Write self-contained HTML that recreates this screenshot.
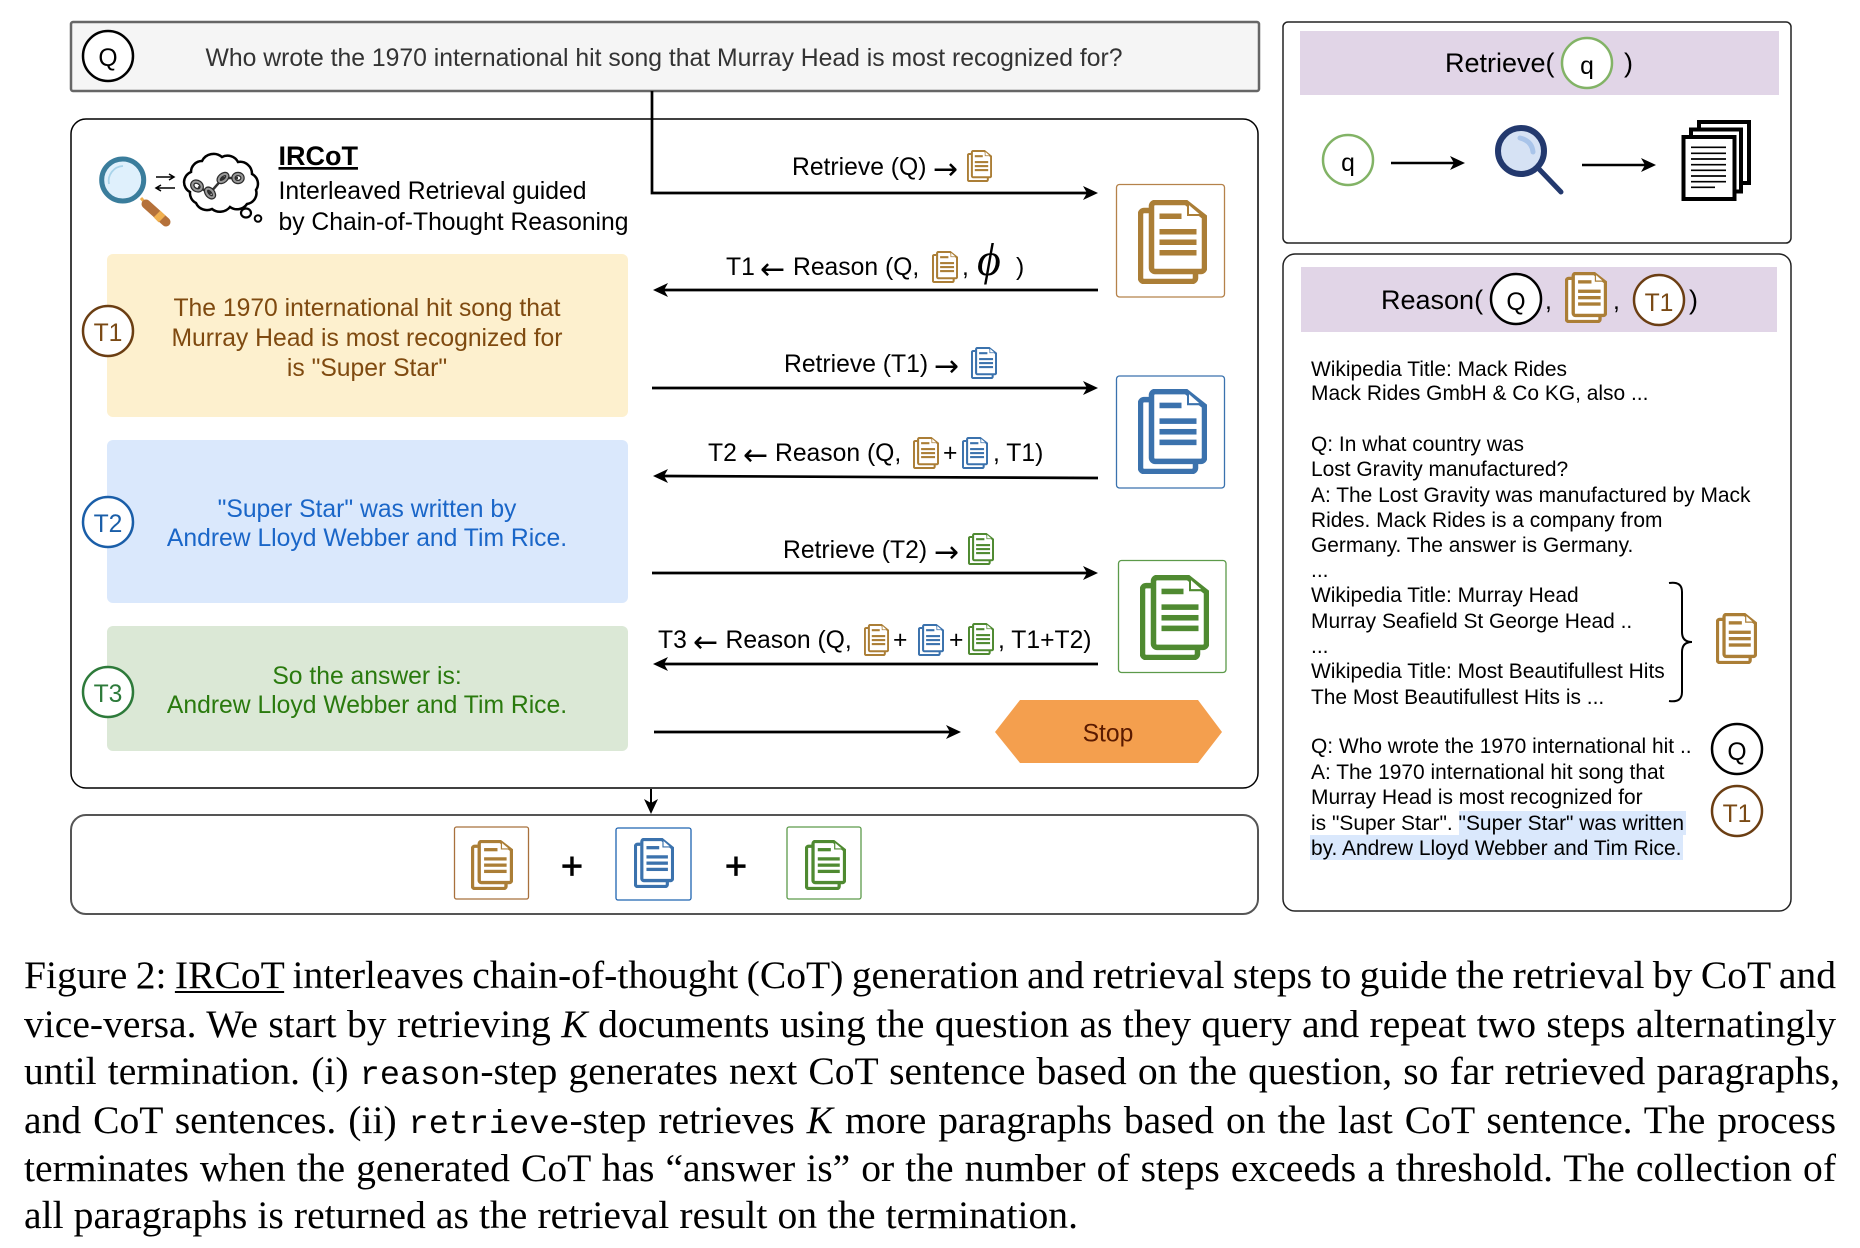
<!DOCTYPE html>
<html><head><meta charset="utf-8">
<style>
html,body{margin:0;padding:0;background:#fff;width:1860px;height:1248px;overflow:hidden}
svg{position:absolute;left:0;top:0}
svg text{font-family:"Liberation Sans",sans-serif;font-size:24.7px;fill:#000}
svg text.a{font-family:"DejaVu Sans",sans-serif;font-size:30px}
.c{text-anchor:middle}
svg text.r{font-size:20.95px}
.cap{position:absolute;left:24px;height:48px;line-height:48px;font-family:"Liberation Serif",serif;font-size:39.6px;color:#000;text-align:justify;text-align-last:justify;white-space:normal;overflow:hidden;word-spacing:-2px}
.cap tt{font-family:"Liberation Mono",monospace;font-size:33.5px}
.cap i{font-style:italic}
.cap u{text-decoration-thickness:2px;text-underline-offset:3px}
</style></head><body>
<svg width="1860" height="1248" viewBox="0 0 1860 1248" xmlns="http://www.w3.org/2000/svg">
<defs>
<symbol id="doc" viewBox="0 0 69 84" preserveAspectRatio="none">
<path d="M11 10.500H6a3.500 3.500 0 0 0-3.500 3.500V78a3.500 3.500 0 0 0 3.500 3.500H54a3.500 3.500 0 0 0 3.500-3.500V72" fill="#fff" stroke="currentColor" stroke-width="5.500"/>
<path d="M17 2.500H48L66.500 17V68a3.500 3.500 0 0 1-3.500 3.500H17a3.500 3.500 0 0 1-3.500-3.500V6a3.500 3.500 0 0 1 3.500-3.500z" fill="#fff" stroke="currentColor" stroke-width="5.500"/>
<path d="M50 3V15H64z" fill="#fff" stroke="currentColor" stroke-width="2"/>
<rect x="21.500" y="13.500" width="22" height="5.500" fill="currentColor"/>
<rect x="21.500" y="29" width="37" height="5.500" fill="currentColor"/>
<rect x="21.500" y="39.500" width="37" height="5.500" fill="currentColor"/>
<rect x="21.500" y="50" width="37" height="5.500" fill="currentColor"/>
</symbol>
</defs>

<!-- Question bar -->
<rect x="71" y="22" width="1188" height="69" rx="2" fill="#f5f5f5" stroke="#666" stroke-width="2.500"/>
<circle cx="108" cy="56" r="25" fill="#fff" stroke="#000" stroke-width="2.500"/>
<text class="c" x="108" y="66">Q</text>
<text x="205.500" y="66" style="fill:#333" textLength="917" lengthAdjust="spacingAndGlyphs">Who wrote the 1970 international hit song that Murray Head is most recognized for?</text>

<!-- Main box -->
<rect x="71" y="119" width="1187" height="669" rx="15" fill="#fff" stroke="#000" stroke-width="1.500"/>

<!-- Logo -->
<path d="M141 198L153 212" stroke="#f0b050" stroke-width="3"/>
<path d="M146 204L166 222" stroke="#b5713a" stroke-width="9" stroke-linecap="round"/>
<path d="M157 214L162 219" stroke="#f0b050" stroke-width="9.500"/>
<circle cx="122.700" cy="180" r="21" fill="#dff0fc" stroke="#3a7d9c" stroke-width="5"/>
<path d="M109 184a15 15 0 0 1 14-18" fill="none" stroke="#a9d4ea" stroke-width="1.800"/>
<path d="M156 177H174M169 174l5 3-5 3" fill="none" stroke="#000" stroke-width="1.500"/>
<path d="M175 188H156M161 185l-5 3 5 3" fill="none" stroke="#000" stroke-width="1.500"/>
<path d="M191 172A11 11 0 0 1 202 161A13 13 0 0 1 222 157A12 12 0 0 1 238 162A12 12 0 0 1 252 174A11 11 0 0 1 256 190A11 11 0 0 1 247 204A12 12 0 0 1 230 207A13 13 0 0 1 212 209A12 12 0 0 1 196 203A11 11 0 0 1 190 192A11 11 0 0 1 191 172Z" fill="#fff" stroke="#000" stroke-width="2.500"/>
<g fill="none">
<path d="M198 187L210 193L223 178L238 178" stroke="#333" stroke-width="2.500"/>
<g stroke="#2b2b2b" stroke-width="4.500">
<ellipse cx="197" cy="186" rx="5" ry="4" transform="rotate(35 197 186)"/>
<ellipse cx="210" cy="193" rx="5" ry="3" transform="rotate(50 210 193)"/>
<ellipse cx="223" cy="178" rx="5" ry="3" transform="rotate(-40 223 178)"/>
<ellipse cx="238" cy="178" rx="4.500" ry="4"/>
</g>
<g stroke="#999" stroke-width="2">
<ellipse cx="197" cy="186" rx="5" ry="4" transform="rotate(35 197 186)"/>
<ellipse cx="210" cy="193" rx="5" ry="3" transform="rotate(50 210 193)"/>
<ellipse cx="223" cy="178" rx="5" ry="3" transform="rotate(-40 223 178)"/>
<ellipse cx="238" cy="178" rx="4.500" ry="4"/>
</g>
</g>
<ellipse cx="246" cy="213" rx="5" ry="4.500" fill="#fff" stroke="#000" stroke-width="2.200"/>
<circle cx="258" cy="218.500" r="3.300" fill="#fff" stroke="#000" stroke-width="2"/>

<text x="278.500" y="165" style="font-size:27px;font-weight:bold;text-decoration:underline">IRCoT</text>
<text x="278.500" y="199" textLength="308" lengthAdjust="spacingAndGlyphs">Interleaved Retrieval guided</text>
<text x="278.500" y="230" textLength="350" lengthAdjust="spacingAndGlyphs">by Chain-of-Thought Reasoning</text>

<!-- T boxes -->
<rect x="107" y="254" width="521" height="163" rx="6" fill="#fdf0ce"/>
<rect x="107" y="440" width="521" height="163" rx="6" fill="#dae8fc"/>
<rect x="107" y="626" width="521" height="125" rx="6" fill="#dbe8d6"/>
<g text-anchor="middle">
<text x="367" y="316" style="fill:#7f4a10">The 1970 international hit song that</text>
<text x="367" y="346" style="fill:#7f4a10">Murray Head is most recognized for</text>
<text x="367" y="376" style="fill:#7f4a10">is "Super Star"</text>
<text x="367" y="517" style="fill:#1a66c8">"Super Star" was written by</text>
<text x="367" y="546" style="fill:#1a66c8">Andrew Lloyd Webber and Tim Rice.</text>
<text x="367" y="684" style="fill:#2a7a0e">So the answer is:</text>
<text x="367" y="713" style="fill:#2a7a0e">Andrew Lloyd Webber and Tim Rice.</text>
</g>
<circle cx="108" cy="331" r="25" fill="#fff" stroke="#6b3e13" stroke-width="2.500"/>
<text class="c" x="108" y="341" style="fill:#7a4a15">T1</text>
<circle cx="108" cy="522" r="25" fill="#fff" stroke="#1a5ea8" stroke-width="2.500"/>
<text class="c" x="108" y="532" style="fill:#1a5ea8">T2</text>
<circle cx="108" cy="692" r="25" fill="#fff" stroke="#2d7a3a" stroke-width="2.500"/>
<text class="c" x="108" y="702" style="fill:#2d7a3a">T3</text>

<!-- Flow arrows -->
<g fill="none" stroke="#000" stroke-width="2.700">
<path d="M652 91V193H1088"/>
<path d="M1098 290H663"/>
<path d="M652 388H1088"/>
<path d="M1098 478L663 476"/>
<path d="M652 573H1088"/>
<path d="M1098 664H663"/>
<path d="M654 732H951"/>
</g>
<g fill="#000">
<path d="M1098 193L1083 186L1087 193L1083 200Z"/>
<path d="M653 290L668 283L664 290L668 297Z"/>
<path d="M1098 388L1083 381L1087 388L1083 395Z"/>
<path d="M653 476L668 469L664 476L668 483Z"/>
<path d="M1098 573L1083 566L1087 573L1083 580Z"/>
<path d="M653 664L668 657L664 664L668 671Z"/>
<path d="M961 732L946 725L950 732L946 739Z"/>
</g>

<!-- Arrow labels -->
<text x="792" y="175">Retrieve (Q)</text><text class="a" x="933" y="179">→</text>
<use href="#doc" x="967" y="150" width="25" height="32" style="color:#ab7e36"/>
<text x="726" y="275">T1</text><text class="a" x="760" y="279">←</text><text x="793" y="275">Reason (Q,</text>
<use href="#doc" x="932" y="251" width="26" height="32" style="color:#ab7e36"/>
<text x="962" y="275">,</text>
<text x="977" y="275" style="font-family:'Liberation Serif',serif;font-size:46px;font-style:italic">ϕ</text>
<text x="1016" y="275">)</text>
<text x="784" y="372">Retrieve (T1)</text><text class="a" x="934" y="376">→</text>
<use href="#doc" x="971" y="347" width="26" height="32" style="color:#3b72ad"/>
<text x="708" y="461">T2</text><text class="a" x="743" y="465">←</text><text x="775" y="461">Reason (Q,</text>
<use href="#doc" x="913" y="437" width="26" height="32" style="color:#ab7e36"/>
<text x="943" y="461">+</text>
<use href="#doc" x="962" y="437" width="26" height="32" style="color:#3b72ad"/>
<text x="993" y="461">, T1)</text>
<text x="783" y="558">Retrieve (T2)</text><text class="a" x="934" y="562">→</text>
<use href="#doc" x="968" y="533" width="26" height="32" style="color:#4f8a31"/>
<text x="658" y="648">T3</text><text class="a" x="693" y="652">←</text><text x="725.500" y="648">Reason (Q,</text>
<use href="#doc" x="864" y="624" width="25" height="32" style="color:#ab7e36"/>
<text x="893" y="648">+</text>
<use href="#doc" x="918" y="624" width="26" height="32" style="color:#3b72ad"/>
<text x="949" y="648">+</text>
<use href="#doc" x="968" y="623" width="26" height="32" style="color:#4f8a31"/>
<text x="998" y="648">, T1+T2)</text>

<!-- Doc boxes -->
<rect x="1116.500" y="184.500" width="108" height="112.500" rx="3" fill="#fff" stroke="#b5824a" stroke-width="1.300"/>
<use href="#doc" x="1138" y="200" width="69" height="84" style="color:#ab7e36"/>
<rect x="1116.500" y="376" width="108" height="112" rx="3" fill="#fff" stroke="#3a72ae" stroke-width="1.300"/>
<use href="#doc" x="1138" y="389" width="69" height="85" style="color:#3b72ad"/>
<rect x="1118.500" y="560.500" width="107.500" height="112" rx="3" fill="#fff" stroke="#5c9a4a" stroke-width="1.300"/>
<use href="#doc" x="1140" y="575" width="69" height="85" style="color:#4f8a31"/>

<!-- Stop -->
<path d="M1020 700H1198L1222 732L1198 763H1020L995 732Z" fill="#f49f4e"/>
<text x="1108" y="741.500" style="fill:#5a1a00;text-anchor:middle">Stop</text>

<!-- Output -->
<path d="M651 789V804" stroke="#000" stroke-width="2" fill="none"/>
<path d="M651 814L644 799L651 803L658 799Z" fill="#000"/>
<rect x="71" y="815" width="1187" height="99" rx="15" fill="#fff" stroke="#555" stroke-width="2"/>
<rect x="454.500" y="827" width="74" height="72" rx="2" fill="#fff" stroke="#a8703c" stroke-width="1.300"/>
<use href="#doc" x="471" y="840" width="42" height="50" style="color:#ab7e36"/>
<rect x="616" y="828" width="75" height="72" rx="2" fill="#fff" stroke="#1e63b0" stroke-width="1.300"/>
<use href="#doc" x="634" y="838" width="40" height="50" style="color:#3b72ad"/>
<rect x="787" y="827" width="74" height="72" rx="2" fill="#fff" stroke="#5c9a4a" stroke-width="1.300"/>
<use href="#doc" x="805" y="840" width="41" height="50" style="color:#4f8a31"/>
<text x="572" y="879" style="font-size:38px;text-anchor:middle;stroke:#000;stroke-width:.7px">+</text>
<text x="736" y="879" style="font-size:38px;text-anchor:middle;stroke:#000;stroke-width:.7px">+</text>

<!-- Retrieve panel -->
<rect x="1283" y="22" width="508" height="221" rx="5" fill="#fff" stroke="#222" stroke-width="1.500"/>
<rect x="1300" y="31" width="479" height="64" fill="#e1d5e7"/>
<text x="1445" y="72" style="font-size:27px">Retrieve(</text>
<circle cx="1587" cy="63" r="25" fill="#fff" stroke="#82b366" stroke-width="2.500"/>
<text x="1587" y="74" style="text-anchor:middle">q</text>
<text x="1624" y="72" style="font-size:27px">)</text>
<circle cx="1348" cy="160" r="25" fill="#fff" stroke="#82b366" stroke-width="2.500"/>
<text x="1348" y="171" style="text-anchor:middle">q</text>
<path d="M1391 163H1455" stroke="#000" stroke-width="2.500"/>
<path d="M1465 163L1450 156L1454 163L1450 170Z" fill="#000"/>
<path d="M1582 165H1647" stroke="#000" stroke-width="2.500"/>
<path d="M1656 165L1641 158L1645 165L1641 172Z" fill="#000"/>
<circle cx="1521" cy="151" r="23" fill="#d6e2f4" stroke="#23396e" stroke-width="6"/>
<path d="M1539 169L1561 192" stroke="#23396e" stroke-width="5" stroke-linecap="round"/>
<path d="M1520 138Q1532 141 1533 152" fill="none" stroke="#a9c4e9" stroke-width="5" stroke-linecap="round"/>
<rect x="1699" y="122" width="50" height="61" fill="#fff" stroke="#000" stroke-width="4"/>
<rect x="1691" y="129.500" width="50" height="62" fill="#fff" stroke="#000" stroke-width="4"/>
<rect x="1683.500" y="137" width="51" height="62" fill="#fff" stroke="#000" stroke-width="4"/>
<path d="M1691 147.300H1726M1691 153.300H1726M1691 159H1726M1691 164.700H1726M1691 170.300H1726M1691 176H1726M1691 181.700H1726M1691 187.300H1715" stroke="#000" stroke-width="1.700" fill="none"/>

<!-- Reason panel -->
<rect x="1283" y="254" width="508" height="657" rx="12" fill="#fff" stroke="#222" stroke-width="1.500"/>
<rect x="1301" y="267" width="476" height="65" fill="#e1d5e7"/>
<text x="1381" y="309" style="font-size:27px">Reason(</text>
<circle cx="1516" cy="299" r="25" fill="#fff" stroke="#000" stroke-width="2.500"/>
<text x="1516" y="310" style="text-anchor:middle">Q</text>
<text x="1545" y="309">,</text>
<use href="#doc" x="1565" y="272" width="42" height="51" style="color:#ab7e36"/>
<text x="1613" y="309">,</text>
<circle cx="1659" cy="300" r="25" fill="#fff" stroke="#6b3e13" stroke-width="2.500"/>
<text x="1659" y="311" style="fill:#7a4a15;text-anchor:middle">T1</text>
<text x="1689" y="309" style="font-size:27px">)</text>

<rect x="1459" y="811" width="227" height="24" fill="#dae8fc"/>
<rect x="1310" y="835" width="373" height="25" fill="#dae8fc"/>

<g>
<text class="r" x="1311" y="376">Wikipedia Title: Mack Rides</text>
<text class="r" x="1311" y="400">Mack Rides GmbH &amp; Co KG, also ...</text>
<text class="r" x="1311" y="451">Q: In what country was</text>
<text class="r" x="1311" y="476">Lost Gravity manufactured?</text>
<text class="r" x="1311" y="502">A: The Lost Gravity was manufactured by Mack</text>
<text class="r" x="1311" y="527">Rides. Mack Rides is a company from</text>
<text class="r" x="1311" y="552">Germany. The answer is Germany.</text>
<text class="r" x="1311" y="577">...</text>
<text class="r" x="1311" y="602">Wikipedia Title: Murray Head</text>
<text class="r" x="1311" y="628">Murray Seafield St George Head ..</text>
<text class="r" x="1311" y="653">...</text>
<text class="r" x="1311" y="678">Wikipedia Title: Most Beautifullest Hits</text>
<text class="r" x="1311" y="704">The Most Beautifullest Hits is ...</text>
<text class="r" x="1311" y="753">Q: Who wrote the 1970 international hit ..</text>
<text class="r" x="1311" y="779">A: The 1970 international hit song that</text>
<text class="r" x="1311" y="804">Murray Head is most recognized for</text>
<text class="r" x="1311" y="830">is "Super Star". "Super Star" was written</text>
<text class="r" x="1311" y="855">by. Andrew Lloyd Webber and Tim Rice.</text>
</g>
<path d="M1669 583Q1682 581 1682 592V632Q1682 642 1692 642Q1682 642 1682 652V692Q1682 703 1669 701" fill="none" stroke="#000" stroke-width="2"/>
<use href="#doc" x="1716" y="613" width="41" height="51" style="color:#ab7e36"/>
<circle cx="1737" cy="749" r="25" fill="#fff" stroke="#000" stroke-width="2.500"/>
<text x="1737" y="760" style="text-anchor:middle">Q</text>
<circle cx="1737" cy="811" r="25" fill="#fff" stroke="#6b3e13" stroke-width="2.500"/>
<text x="1737" y="822" style="fill:#7a4a15;text-anchor:middle">T1</text>
</svg>

<div class="cap" style="top:951px;width:1812px">Figure 2: <u>IRCoT</u> interleaves chain-of-thought (CoT) generation and retrieval steps to guide the retrieval by CoT and</div>
<div class="cap" style="top:1000px;width:1812px">vice-versa. We start by retrieving <i>K</i> documents using the question as they query and repeat two steps alternatingly</div>
<div class="cap" style="top:1047px;width:1816px">until termination. (i) <tt>reason</tt>-step generates next CoT sentence based on the question, so far retrieved paragraphs,</div>
<div class="cap" style="top:1096px;width:1812px">and CoT sentences. (ii) <tt>retrieve</tt>-step retrieves <i>K</i> more paragraphs based on the last CoT sentence. The process</div>
<div class="cap" style="top:1144px;width:1812px">terminates when the generated CoT has “answer is” or the number of steps exceeds a threshold. The collection of</div>
<div class="cap" style="top:1191px;width:1054px">all paragraphs is returned as the retrieval result on the termination.</div>
</body></html>
